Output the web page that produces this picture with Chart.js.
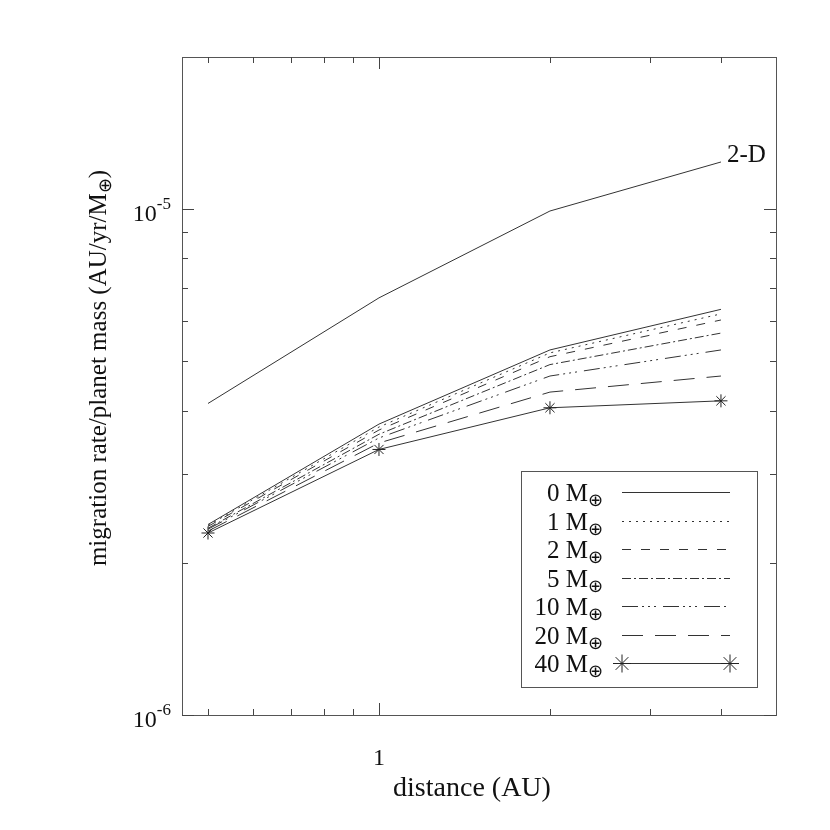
<!DOCTYPE html>
<html>
<head>
<meta charset="UTF-8">
<title>Migration rate vs distance</title>
<style>
  html, body { margin: 0; padding: 0; background: #fff; }
  canvas { display: block; }
</style>
</head>
<body>
<canvas id="rateChart" width="830" height="830"></canvas>

<script src="https://cdn.jsdelivr.net/npm/chart.js"></script>
<script>
// distance (AU)
const distances = [0.5, 1, 2, 4];

// migration rate / planet mass (AU/yr/M_earth)
const rate2D = [4.13e-6, 6.68e-6, 9.92e-6, 1.24e-5];
const rate0  = [2.38e-6, 3.76e-6, 5.27e-6, 6.34e-6];
const rate1  = [2.37e-6, 3.71e-6, 5.20e-6, 6.21e-6];
const rate2  = [2.36e-6, 3.66e-6, 5.11e-6, 6.04e-6];
const rate5  = [2.34e-6, 3.59e-6, 4.93e-6, 5.69e-6];
const rate10 = [2.33e-6, 3.53e-6, 4.68e-6, 5.27e-6];
const rate20 = [2.31e-6, 3.45e-6, 4.35e-6, 4.68e-6];
const rate40 = [2.29e-6, 3.35e-6, 4.05e-6, 4.18e-6];

// planet masses (legend)
const massLabels = ['0', '1', '2', '5', '10', '20', '40'];
const label2D = '2-D';

// ticks
const xMajorTicks = [1];
const xTickLabels = ['1'];
const xMinorTicks = [0.5, 0.6, 0.7, 0.8, 0.9, 2, 3, 4];
const yMajorTicks = [1e-6, 1e-5];
const yTickExponents = ['-6', '-5'];
const yMinorTicks = [2e-6, 3e-6, 4e-6, 5e-6, 6e-6, 7e-6, 8e-6, 9e-6];

const xTitle = 'distance (AU)';
const yTitle = 'migration rate/planet mass (AU/yr/M';

const serif = '"Liberation Serif", "Times New Roman", serif';
const lineColor = '#333';

function toPoints(values) {
	return values.map(function(v, i) { return {x: distances[i], y: v}; });
}

// line styles for the mass series
const massSeries = [rate0, rate1, rate2, rate5, rate10, rate20, rate40];
const massDashes = [[], [2, 5], [9, 10], [9, 3, 2, 3], [16, 4, 2, 4, 2, 4, 2, 7], [21, 12], []];

const datasets = [{
	label: label2D,
	data: toPoints(rate2D),
	borderColor: lineColor,
	borderWidth: 1,
	pointRadius: 0
}];
massSeries.forEach(function(series, i) {
	const last = i === massSeries.length - 1;
	datasets.push({
		label: massLabels[i] + ' M',
		data: toPoints(series),
		borderColor: lineColor,
		borderWidth: 1,
		borderDash: massDashes[i],
		pointRadius: last ? 6.5 : 0,
		pointStyle: 'star',
		pointBorderColor: '#222',
		pointBorderWidth: 1
	});
});

// draws a "*" marker (plus + cross)
function drawStar(ctx, x, y, r) {
	const d = r * Math.SQRT1_2;
	ctx.beginPath();
	ctx.moveTo(x - r, y); ctx.lineTo(x + r, y);
	ctx.moveTo(x, y - r); ctx.lineTo(x, y + r);
	ctx.moveTo(x - d, y - d); ctx.lineTo(x + d, y + d);
	ctx.moveTo(x - d, y + d); ctx.lineTo(x + d, y - d);
	ctx.stroke();
}

// frame, inward ticks, labels, legend
const decorPlugin = {
	id: 'decor',
	afterDraw(chart) {
		const ctx = chart.ctx;
		const a = chart.chartArea;
		const xs = chart.scales.x, ys = chart.scales.y;
		ctx.save();

		// box
		ctx.strokeStyle = '#555';
		ctx.lineWidth = 1;
		ctx.setLineDash([]);
		ctx.strokeRect(a.left + 0.5, a.top + 0.5, a.right - a.left, a.bottom - a.top);

		// ticks
		ctx.strokeStyle = '#444';
		function xTick(v, len) {
			const px = Math.round(xs.getPixelForValue(v)) + 0.5;
			ctx.beginPath();
			ctx.moveTo(px, a.bottom); ctx.lineTo(px, a.bottom - len);
			ctx.moveTo(px, a.top); ctx.lineTo(px, a.top + len);
			ctx.stroke();
		}
		function yTick(v, len) {
			const py = Math.round(ys.getPixelForValue(v)) + 0.5;
			ctx.beginPath();
			ctx.moveTo(a.left, py); ctx.lineTo(a.left + len, py);
			ctx.moveTo(a.right, py); ctx.lineTo(a.right - len, py);
			ctx.stroke();
		}
		xMinorTicks.forEach(function(v) { xTick(v, 6); });
		xMajorTicks.forEach(function(v) { xTick(v, 12); });
		yMinorTicks.forEach(function(v) { yTick(v, 6); });
		yMajorTicks.forEach(function(v) { yTick(v, 12); });

		ctx.fillStyle = '#111';

		// x tick labels
		ctx.font = '24px ' + serif;
		ctx.textAlign = 'center';
		ctx.textBaseline = 'alphabetic';
		xMajorTicks.forEach(function(v, i) {
			ctx.fillText(xTickLabels[i], xs.getPixelForValue(v), a.bottom + 50);
		});

		// y tick labels 10^n
		yMajorTicks.forEach(function(v, i) {
			const py = ys.getPixelForValue(v);
			ctx.font = '17px ' + serif;
			ctx.textAlign = 'right';
			const supW = ctx.measureText(yTickExponents[i]).width;
			ctx.fillText(yTickExponents[i], a.left - 11, py);
			ctx.font = '24px ' + serif;
			ctx.fillText('10', a.left - 11 - supW, py + 12);
		});

		// x title
		ctx.font = '28px ' + serif;
		ctx.textAlign = 'center';
		ctx.fillText(xTitle, (a.left + a.right) / 2 - 7, a.bottom + 81);

		// y title (rotated), with subscript earth symbol
		ctx.save();
		ctx.translate(106, 368);
		ctx.rotate(-Math.PI / 2);
		ctx.font = '25px ' + serif;
		const w1 = ctx.measureText(yTitle).width;
		const w3 = ctx.measureText(')').width;
		ctx.font = '18px ' + serif;
		const w2 = ctx.measureText('\u2295').width;
		const start = -(w1 + w2 + w3) / 2;
		ctx.textAlign = 'left';
		ctx.font = '25px ' + serif;
		ctx.fillText(yTitle, start, 0);
		ctx.font = '18px ' + serif;
		ctx.fillText('\u2295', start + w1, 5);
		ctx.font = '25px ' + serif;
		ctx.fillText(')', start + w1 + w2, 0);
		ctx.restore();

		// 2-D label next to the end of its line
		const lastIdx = distances.length - 1;
		ctx.font = '25px ' + serif;
		ctx.textAlign = 'left';
		ctx.fillText(label2D, xs.getPixelForValue(distances[lastIdx]) + 6,
			ys.getPixelForValue(rate2D[lastIdx]));

		// legend
		const box = {left: 521, top: 471, width: 236, height: 216};
		ctx.strokeStyle = '#555';
		ctx.strokeRect(box.left + 0.5, box.top + 0.5, box.width, box.height);
		const textRight = 603, lineL = 622, lineR = 730;
		for (let i = 1; i < chart.data.datasets.length; i++) {
			const ds = chart.data.datasets[i];
			const ry = Math.round(box.top + 21 + (i - 1) * 28.5) + 0.5;
			ctx.font = '18px ' + serif;
			const subW = ctx.measureText('\u2295').width;
			ctx.textAlign = 'right';
			ctx.fillText('\u2295', textRight, ry + 13);
			ctx.font = '25px ' + serif;
			ctx.fillText(ds.label, textRight - subW, ry + 8);

			ctx.strokeStyle = lineColor;
			ctx.setLineDash(ds.borderDash || []);
			ctx.beginPath();
			ctx.moveTo(lineL, ry); ctx.lineTo(lineR, ry);
			ctx.stroke();
			ctx.setLineDash([]);
			if (ds.pointRadius > 0) {
				ctx.strokeStyle = '#222';
				drawStar(ctx, lineL, ry, 9);
				drawStar(ctx, lineR, ry, 9);
			}
		}
		ctx.restore();
	}
};

const ctx = document.getElementById('rateChart').getContext('2d');
const rateChart = new Chart(ctx, {
	type: 'line',
	data: { datasets: datasets },
	options: {
		responsive: false,
		animation: false,
		layout: { padding: { left: 182, right: 54, top: 57, bottom: 115 } },
		elements: { line: { tension: 0 } },
		scales: {
			x: { type: 'logarithmic', min: 0.45, max: 5, bounds: 'data', display: false },
			y: { type: 'logarithmic', min: 1e-6, max: 2e-5, bounds: 'data', display: false }
		},
		plugins: {
			legend: { display: false },
			tooltip: { enabled: false }
		}
	},
	plugins: [decorPlugin]
});
</script>
</body>
</html>
